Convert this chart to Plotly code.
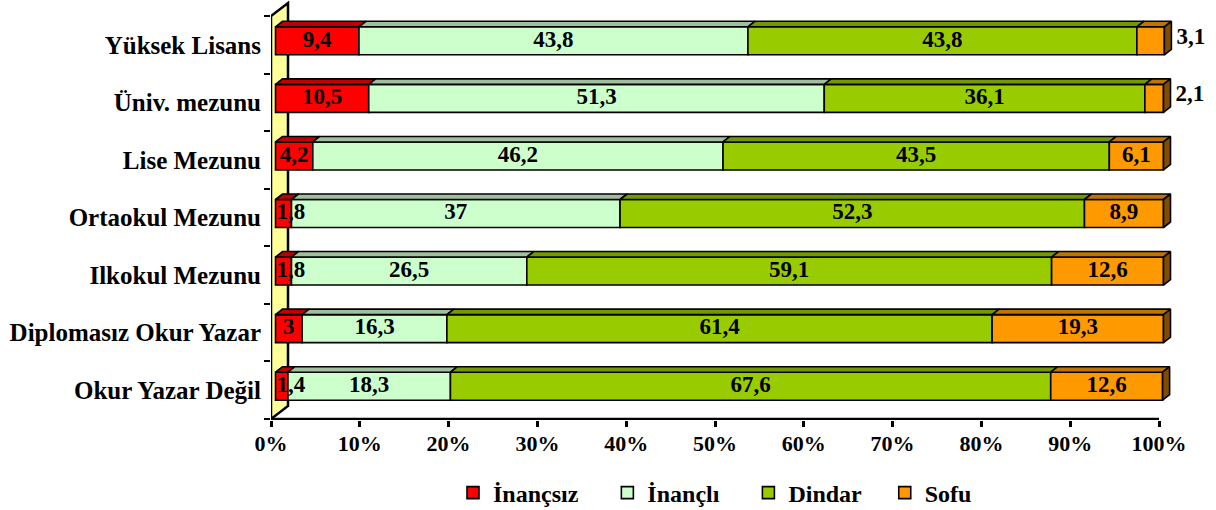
import plotly.graph_objects as go

# ---------------- data ----------------
categories = ["Yüksek Lisans", "Üniv. mezunu", "Lise Mezunu", "Ortaokul Mezunu",
              "Ilkokul Mezunu", "Diplomasız Okur Yazar", "Okur Yazar Değil"]
series_names = ["İnançsız", "İnançlı", "Dindar", "Sofu"]
inancsiz = [9.4, 10.5, 4.2, 1.8, 1.8, 3, 1.4]
inancli = [43.8, 51.3, 46.2, 37, 26.5, 16.3, 18.3]
dindar = [43.8, 36.1, 43.5, 52.3, 59.1, 61.4, 67.6]
sofu = [3.1, 2.1, 6.1, 8.9, 12.6, 19.3, 12.6]
x_tick_vals = [0, 10, 20, 30, 40, 50, 60, 70, 80, 90, 100]
x_tick_text = [f"{v}%" for v in x_tick_vals]

series_values = [inancsiz, inancli, dindar, sofu]

# ---------------- style ----------------
front_colors = ["#FF0000", "#CCFFCC", "#99CC00", "#FF9900"]
top_colors = ["#C00000", "#9FBF9F", "#739900", "#C07300"]
side_color = "#804D00"
wall_color = "#FFFF99"
FONT = "Liberation Serif"
legend_pad = [4, 4, 3, 0]   # trailing non-breaking spaces between legend items

W, H = 1216, 510
ML, MR, MT, MB = 271, 36, 0, 90
PX_X = 8.88            # pixels per percent
PX_Y = 403 / 7         # pixels per category band
X_MAX = (W - ML - MR) / PX_X
Y_LOW = -0.5 - 1 / PX_Y
Y_HIGH = Y_LOW + (H - MT - MB) / PX_Y
PLOT_H = H - MT - MB

FX = 4.5 / PX_X        # front face offset from axis (depth)
FY = 4.0 / PX_Y
BH = 28 / PX_Y         # bar thickness
DX = 7 / PX_X          # bar depth projection
DY = 5.5 / PX_Y
WX = 17 / PX_X         # wall depth projection
WY = 13 / PX_Y
LW = 1.6

n = len(categories)
ypos = [n - 1 - i for i in range(n)]


def bold(t):
    return f"<b>{t}</b>"


fig = go.Figure()

cum = [0.0] * n
for s, (name, vals) in enumerate(zip(series_names, series_values)):
    bases = [c + FX for c in cum]
    fig.add_trace(go.Bar(
        y=[yp + FY for yp in ypos], x=vals, base=bases, orientation="h",
        width=BH, name=bold(name) + "\u00a0" * legend_pad[s],
        marker=dict(color=front_colors[s], line=dict(color="black", width=LW)),
        hoverinfo="skip", showlegend=True))
    tx, ty = [], []
    for i in range(n):
        x0 = bases[i]
        x1 = x0 + vals[i]
        yt = ypos[i] + FY + BH / 2
        tx += [x0, x1, x1 + DX, x0 + DX, x0, None]
        ty += [yt, yt, yt + DY, yt + DY, yt, None]
    fig.add_trace(go.Scatter(x=tx, y=ty, mode="lines", fill="toself",
                             fillcolor=top_colors[s],
                             line=dict(color="black", width=LW),
                             hoverinfo="skip", showlegend=False))
    cum = [c + v for c, v in zip(cum, vals)]

sx, sy = [], []
for i in range(n):
    x1 = cum[i] + FX
    yb = ypos[i] + FY - BH / 2
    yt = ypos[i] + FY + BH / 2
    sx += [x1, x1 + DX, x1 + DX, x1, x1, None]
    sy += [yb, yb + DY, yt + DY, yt, yb, None]
fig.add_trace(go.Scatter(x=sx, y=sy, mode="lines", fill="toself",
                         fillcolor=side_color,
                         line=dict(color="black", width=LW),
                         hoverinfo="skip", showlegend=False))

lab_font = dict(family=FONT, size=23, color="black")
cum = [0.0] * n
last = len(series_values) - 1
for s, vals in enumerate(series_values):
    cx, cy, ct, cp = [], [], [], []
    for i in range(n):
        v = vals[i]
        txt = bold(f"{v:g}".replace(".", ","))
        x0 = cum[i] + FX
        if s == last and v < 4:
            cx.append(x0 + v + DX + 5 / PX_X)
            cy.append(ypos[i] + FY + DY / 2)
            cp.append("middle right")
        elif v < 2.5:
            cx.append(x0 + 0.1)
            cy.append(ypos[i] + FY)
            cp.append("middle right")
        else:
            cx.append(x0 + v / 2)
            cy.append(ypos[i] + FY)
            cp.append("middle center")
        ct.append(txt)
    fig.add_trace(go.Scatter(x=cx, y=cy, text=ct, mode="text", textposition=cp,
                             textfont=lab_font, cliponaxis=False,
                             hoverinfo="skip", showlegend=False))
    cum = [c + v for c, v in zip(cum, vals)]

fig.add_shape(type="path", layer="below", xref="x", yref="y",
              path=(f"M 0,-0.5 L 0,{n - 0.5} L {WX},{n - 0.5 + WY} "
                    f"L {WX},{-0.5 + WY} Z"),
              fillcolor=wall_color, line=dict(color="black", width=2.5))
fig.add_shape(type="line", layer="above", xref="x", yref="y",
              x0=0, x1=x_tick_vals[-1], y0=-0.5, y1=-0.5,
              line=dict(color="black", width=2.5))

fig.update_layout(
    width=W, height=H,
    margin=dict(l=ML, r=MR, t=MT, b=MB, pad=0, autoexpand=False),
    paper_bgcolor="white", plot_bgcolor="white",
    barmode="overlay", hovermode=False,
    font=dict(family=FONT, color="black"),
    xaxis=dict(range=[0, X_MAX], tickmode="array", tickvals=x_tick_vals,
               ticktext=[bold(t) for t in x_tick_text], automargin=False,
               ticks="outside", ticklen=6, tickwidth=2.5, tickcolor="black",
               ticklabelstandoff=-2,
               showgrid=False, zeroline=False, showline=False,
               tickfont=dict(family=FONT, size=22, color="black")),
    yaxis=dict(range=[Y_LOW, Y_HIGH], tickmode="array", tickvals=ypos,
               ticktext=[bold(c) for c in categories], automargin=False,
               ticks="outside", ticklen=4, tickcolor="rgba(0,0,0,0)",
               showgrid=False, zeroline=False, showline=False,
               tickfont=dict(family=FONT, size=25, color="black")),
    yaxis2=dict(range=[Y_LOW, Y_HIGH], overlaying="y", side="left",
                tickmode="array", tickvals=[k - 0.5 for k in range(n + 1)],
                showticklabels=False, ticks="outside", ticklen=6,
                tickwidth=2, tickcolor="black", automargin=False,
                showgrid=False, zeroline=False, showline=False),
    legend=dict(orientation="h", x=(453 - ML) / (W - ML - MR), xanchor="left",
                y=(PLOT_H - 493) / PLOT_H, yanchor="middle",
                itemclick=False,
                font=dict(family=FONT, size=24, color="black")),
)
fig.add_trace(go.Scatter(x=[None], y=[None], yaxis="y2", showlegend=False,
                         hoverinfo="skip"))

fig.write_html("out.html",
               config={"displayModeBar": False},
               post_script="document.body.style.margin='0px';"
                           "document.body.style.overflow='hidden';")
